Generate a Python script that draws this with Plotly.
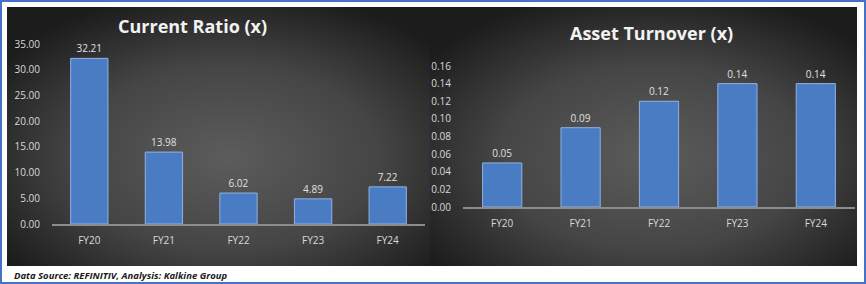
import base64
import plotly.graph_objects as go

W, H = 866, 284

categories = ["FY20", "FY21", "FY22", "FY23", "FY24"]
current_ratio = [32.21, 13.98, 6.02, 4.89, 7.22]
asset_turnover = [0.05, 0.09, 0.12, 0.14, 0.14]
cr_ticks = [0, 5, 10, 15, 20, 25, 30, 35]
at_ticks = [0, 0.02, 0.04, 0.06, 0.08, 0.10, 0.12, 0.14, 0.16]

def px_x(p):
    return p / W

def px_y(p):
    return 1 - p / H

svg = ('<svg xmlns="http://www.w3.org/2000/svg" width="400" height="260" viewBox="0 0 400 260" preserveAspectRatio="none">'
       '<defs><radialGradient id="g" cx="52%" cy="58%" r="65%">'
       '<stop offset="0%" stop-color="#5c5c5c"/><stop offset="55%" stop-color="#454545"/>'
       '<stop offset="100%" stop-color="#1c1c1c"/></radialGradient></defs>'
       '<rect width="400" height="260" fill="url(#g)"/></svg>')
bg = "data:image/svg+xml;base64," + base64.b64encode(svg.encode()).decode()

fig = go.Figure()

bar_style = dict(marker=dict(color="#4a7cc4", line=dict(color="#8fb2e3", width=1)),
                 width=0.5, textposition="outside", cliponaxis=False,
                 textfont=dict(family="Open Sans", size=10, color="#e0e0e0"))

fig.add_trace(go.Bar(x=categories, y=current_ratio, text=[f"{v:.2f}" for v in current_ratio],
                     xaxis="x", yaxis="y", **bar_style))
fig.add_trace(go.Bar(x=categories, y=asset_turnover, text=[f"{v:.2f}" for v in asset_turnover],
                     xaxis="x2", yaxis="y2", **bar_style))

tickfont = dict(family="Open Sans", size=10, color="#d9d9d9")

fig.update_layout(
    width=W, height=H, margin=dict(l=0, r=0, t=0, b=0, pad=0, autoexpand=False),
    paper_bgcolor="white", plot_bgcolor="rgba(0,0,0,0)", showlegend=False,
    xaxis=dict(domain=[px_x(52), px_x(425)], anchor="y", showline=True, linecolor="#8c8c8c",
               linewidth=2, ticks="outside", ticklen=6, tickcolor="rgba(0,0,0,0)",
               tickfont=tickfont, showgrid=False, automargin=False),
    yaxis=dict(domain=[px_y(224), px_y(44)], anchor="x", range=[0, 35], tickvals=cr_ticks,
               tickformat=".2f", showgrid=False, zeroline=False, ticks="outside", ticklen=9,
               tickcolor="rgba(0,0,0,0)", tickfont=tickfont, automargin=False),
    xaxis2=dict(domain=[px_x(463), px_x(855)], anchor="y2", showline=True, linecolor="#8c8c8c",
                linewidth=2, ticks="outside", ticklen=6, tickcolor="rgba(0,0,0,0)",
                tickfont=tickfont, showgrid=False, automargin=False),
    yaxis2=dict(domain=[px_y(207), px_y(66)], anchor="x2", range=[0, 0.16], tickvals=at_ticks,
                tickformat=".2f", showgrid=False, zeroline=False, ticks="outside", ticklen=9,
                tickcolor="rgba(0,0,0,0)", tickfont=tickfont, automargin=False),
    images=[
        dict(source=bg, xref="paper", yref="paper", x=px_x(7), y=px_y(7), sizex=424 / W,
             sizey=259 / H, xanchor="left", yanchor="top", sizing="stretch", layer="below"),
        dict(source=bg, xref="paper", yref="paper", x=px_x(430), y=px_y(7), sizex=427 / W,
             sizey=259 / H, xanchor="left", yanchor="top", sizing="stretch", layer="below"),
    ],
    shapes=[
        dict(type="rect", xref="paper", yref="paper", x0=px_x(1), x1=px_x(865), y0=px_y(283),
             y1=px_y(1), line=dict(color="#4472c4", width=2), fillcolor="rgba(0,0,0,0)",
             layer="above"),
    ],
    annotations=[
        dict(text="<b>Current Ratio (x)</b>", xref="paper", yref="paper", x=px_x(192),
             y=px_y(26), showarrow=False, xanchor="center", yanchor="middle",
             font=dict(family="Open Sans", size=18, color="#f2f2f2")),
        dict(text="<b>Asset Turnover (x)</b>", xref="paper", yref="paper", x=px_x(651),
             y=px_y(33), showarrow=False, xanchor="center", yanchor="middle",
             font=dict(family="Open Sans", size=18, color="#f2f2f2")),
        dict(text="<b><i>Data Source: REFINITIV, Analysis: Kalkine Group</i></b>", xref="paper",
             yref="paper", x=px_x(12), y=px_y(275), showarrow=False, xanchor="left",
             yanchor="middle", font=dict(family="Open Sans", size=9.5, color="#1a1a1a")),
    ],
)

fig.write_html("out.html")
